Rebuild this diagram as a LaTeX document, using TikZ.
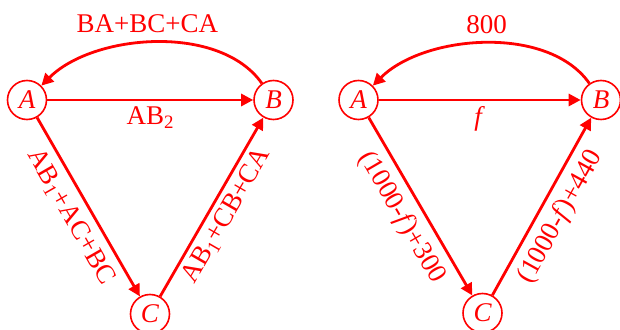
\documentclass[tikz,border=0pt]{standalone}
\usepackage{fontspec}
\setmainfont{Liberation Serif}
\usetikzlibrary{arrows.meta}
\tikzset{
  >={Triangle[length=12pt,width=12pt]},
  vertex/.style={circle,draw=red,line width=1.6pt,minimum size=39pt,
    inner sep=0pt,text=red,font=\fontsize{27}{32}\selectfont\itshape},
  flow/.style={->,line width=2.8pt,draw=red},
  lbl/.style={text=red,font=\fontsize{27}{32}\selectfont,inner sep=2pt}
}
\begin{document}
\begin{tikzpicture}[x=1pt,y=1pt]
  \useasboundingbox (0,0) rectangle (620,329);
  % left network
  \node[vertex] (lA) at (27,229) {A};
  \node[vertex] (lB) at (273.5,229) {B};
  \node[vertex] (lC) at (150,15) {C};
  \draw[flow] (lA) -- node[lbl,below=3pt]{AB\textsubscript{2}} (lB);
  \draw[flow] (lA) -- node[lbl,sloped,below=6pt]{AB\textsubscript{1}+AC+BC} (lC);
  \draw[flow] (lC) -- node[lbl,sloped,below=3pt]{AB\textsubscript{1}+CB+CA} (lB);
  \draw[flow] (lB) to[out=125,in=45,looseness=0.85] node[lbl,above=6pt,xshift=-8pt]{BA+BC+CA} (lA);
  % right network
  \node[vertex] (rA) at (358.5,229) {A};
  \node[vertex] (rB) at (601,229) {B};
  \node[vertex] (rC) at (482.5,16) {C};
  \draw[flow] (rA) -- node[lbl,below=3pt]{\textit{f}} (rB);
  \draw[flow] (rA) -- node[lbl,sloped,below=6pt]{(1000-\textit{f})+300} (rC);
  \draw[flow] (rC) -- node[lbl,sloped,below=6pt]{(1000-\textit{f})+440} (rB);
  \draw[flow] (rB) to[out=125,in=45,looseness=0.85] node[lbl,above=6pt,xshift=2pt]{800} (rA);
\end{tikzpicture}
\end{document}
